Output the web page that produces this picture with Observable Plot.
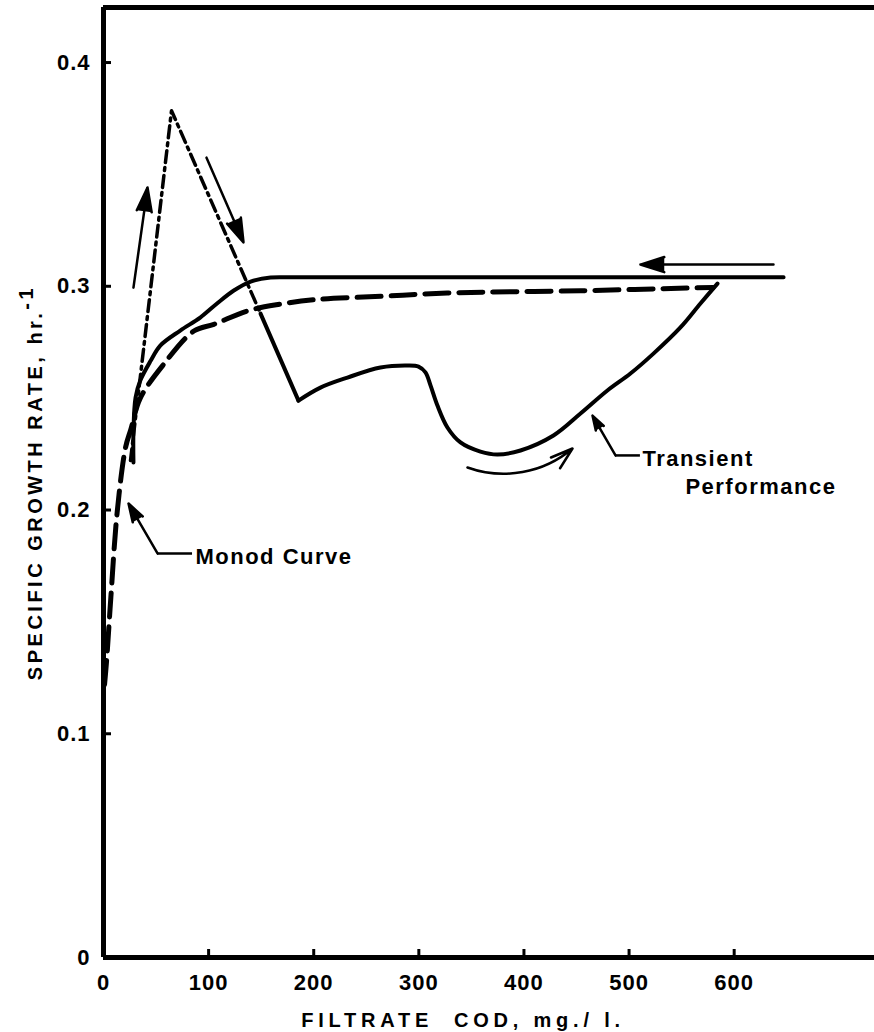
<!DOCTYPE html>
<html><head><meta charset="utf-8">
<script src="https://cdn.jsdelivr.net/npm/d3@7"></script>
<script src="https://cdn.jsdelivr.net/npm/@observablehq/plot@0.6"></script>
<style>body{margin:0;background:#fff} svg{display:block}</style>
</head><body><div id="chart"></div>
<script>
// Axis ticks
const xTicks = [0, 100, 200, 300, 400, 500, 600];
const yTicks = [0, 0.1, 0.2, 0.3, 0.4];
const xMax = 733.5, yMax = 0.4246;

// Monod curve (dashed)
const monodX = [1, 3, 7, 13, 21, 26, 35, 57, 86, 105, 137, 168, 200, 264, 327, 454, 580];
const monodY = [0.122, 0.133, 0.161, 0.199, 0.228, 0.236, 0.250, 0.265, 0.280, 0.283, 0.289, 0.292, 0.294, 0.2955, 0.297, 0.298, 0.2995];

// Transient path: upper solid line (drawn right to left)
const upperX = [647, 283, 180, 159, 140, 124, 108, 92, 73, 54, 45, 35, 30.5, 28.5, 28.5];
const upperY = [0.304, 0.304, 0.304, 0.3039, 0.3021, 0.2981, 0.2923, 0.286, 0.2802, 0.2735, 0.2668, 0.2579, 0.2503, 0.2355, 0.2212];

// Transient path: dash-dot spike
const spikeX = [25.7, 64.7, 149.4];
const spikeY = [0.2221, 0.3785, 0.2878];

// Transient path: solid drop to the corner
const dropX = [149.4, 185.5];
const dropY = [0.2878, 0.2489];

// Transient path: lower solid curve back to the Monod curve
const lowerX = [185.5, 206.4, 232.1, 263.5, 289.2, 299.7, 306.3, 311.1, 317.7, 327.2, 339.6, 358.6, 374.8, 396.7, 428.1, 453.8, 479.4, 501.3, 523.2, 548.9, 567.9, 584.1];
const lowerY = [0.2489, 0.2547, 0.2592, 0.2637, 0.2646, 0.2641, 0.2615, 0.2557, 0.2467, 0.2369, 0.2302, 0.2261, 0.2248, 0.2266, 0.2333, 0.2431, 0.2534, 0.2610, 0.2699, 0.2816, 0.2923, 0.3012];

// Direction arrows and label pointers
const arrowX1 = [28.5, 98, 637.4, 51.4, 487.1];
const arrowY1 = [0.2994, 0.3575, 0.3097, 0.1806, 0.2244];
const arrowX2 = [41.9, 133.2, 510.8, 23.8, 465.2];
const arrowY2 = [0.3441, 0.3196, 0.3097, 0.2029, 0.2422];
const bentX1 = [346.3], bentY1 = [0.2190], bentX2 = [446.2], bentY2 = [0.2275];
const leaderX1 = [84.7, 510.8], leaderX2 = [51.4, 487.1], leaderY = [0.1806, 0.2244];

// Annotations
const labelText = ["Monod Curve", "Transient", "Performance"];
const labelX = [87.5, 512.7, 553.6];
const labelY = [0.1788, 0.2230, 0.2101];
const xTitle = "FILTRATE\u00a0\u00a0COD, mg./ l.";
const yTitleMain = "SPECIFIC GROWTH RATE, hr.";
const yTitleSup = "-1";

const pts = (xs, ys) => xs.map((x, i) => ({x, y: ys[i]}));
const monod = pts(monodX, monodY);
const upper = pts(upperX, upperY);
const spike = pts(spikeX, spikeY);
const drop = pts(dropX, dropY);
const lower = pts(lowerX, lowerY);
const arrows = arrowX1.map((x1, i) => ({x1, y1: arrowY1[i], x2: arrowX2[i], y2: arrowY2[i]}));
const bent = bentX1.map((x1, i) => ({x1, y1: bentY1[i], x2: bentX2[i], y2: bentY2[i]}));
const leaders = leaderX1.map((x1, i) => ({x1, x2: leaderX2[i], y: leaderY[i]}));
const labels = labelText.map((t, i) => ({t, x: labelX[i], y: labelY[i]}));

const FONT = "'Liberation Sans', Arial, sans-serif";

const chart = Plot.plot({
  width: 874, height: 1032,
  marginLeft: 103, marginRight: 0, marginTop: 7, marginBottom: 75,
  x: {domain: [0, xMax]},
  y: {domain: [0, yMax]},
  style: {fontFamily: FONT, background: "#fff", color: "#000", overflow: "visible"},
  marks: [
    Plot.axisX(xTicks, {tickSize: 0, tickPadding: 17, fontSize: 22, fontWeight: "bold", label: null}),
    Plot.axisY(yTicks, {tickSize: 0, tickPadding: 13, fontSize: 22, fontWeight: "bold", label: null,
      tickFormat: d => d === 0 ? "0" : d.toFixed(1)}),
    Plot.tickX(xTicks, {x: d => d, insetTop: 942, strokeWidth: 3}),
    Plot.tickY(yTicks, {y: d => d, insetRight: 763, strokeWidth: 3}),
    Plot.ruleX([0], {strokeWidth: 5}),
    Plot.ruleY([0, yMax], {strokeWidth: 5}),
    Plot.line(monod, {x: "x", y: "y", strokeWidth: 5, strokeDasharray: "24,10", curve: "catmull-rom"}),
    Plot.line(upper, {x: "x", y: "y", strokeWidth: 4, curve: "catmull-rom"}),
    Plot.line(spike, {x: "x", y: "y", strokeWidth: 3.5, strokeDasharray: "12,5,3,5"}),
    Plot.line(drop, {x: "x", y: "y", strokeWidth: 4}),
    Plot.line(lower, {x: "x", y: "y", strokeWidth: 4, curve: "catmull-rom"}),
    Plot.arrow(arrows, {x1: "x1", y1: "y1", x2: "x2", y2: "y2", stroke: "black", fill: "black", strokeWidth: 2.5, headLength: 15, headAngle: 35}),
    Plot.arrow(bent, {x1: "x1", y1: "y1", x2: "x2", y2: "y2", strokeWidth: 2.5, headLength: 14, headAngle: 35, bend: -30}),
    Plot.ruleY(leaders, {y: "y", x1: "x1", x2: "x2", strokeWidth: 2.5}),
    Plot.text(labels, {x: "x", y: "y", text: "t", textAnchor: "start", lineAnchor: "middle", fontSize: 22, fontWeight: "bold"}),
    Plot.text([xTitle], {frameAnchor: "bottom", dx: -26, dy: 63, lineAnchor: "middle", fontSize: 20, fontWeight: "bold"}),
    Plot.text([yTitleMain], {frameAnchor: "left", rotate: -90, textAnchor: "middle", dx: -68, dy: 0, lineAnchor: "middle", fontSize: 20, fontWeight: "bold"})
  ]
});

const svg = d3.select(chart);
const byText = t => svg.selectAll("text").filter(function() { return this.textContent === t; });
labelText.forEach(t => byText(t).style("letter-spacing", "1.5px"));
byText(xTitle).style("letter-spacing", "4.8px");
svg.selectAll('g[aria-label="x-axis tick label"] text, g[aria-label="y-axis tick label"] text').style("letter-spacing", "1px");
const yt = byText(yTitleMain).style("letter-spacing", "3.5px");
yt.append("tspan").attr("dy", "-0.45em").text(yTitleSup);

document.getElementById("chart").append(chart);
</script>
</body></html>
